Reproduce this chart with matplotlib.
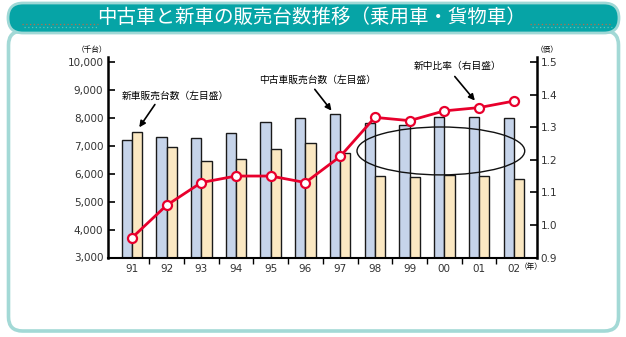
import matplotlib.pyplot as plt
from matplotlib.patches import FancyBboxPatch, Ellipse

plt.rcParams['font.family'] = ['Noto Sans CJK JP', 'DejaVu Sans']

# data
years = ['91', '92', '93', '94', '95', '96', '97', '98', '99', '00', '01', '02']
used_cars = [7200, 7330, 7285, 7450, 7870, 8000, 8130, 7830, 7760, 8040, 8020, 8010]   # 中古車販売台数 (千台)
new_cars = [7500, 6940, 6460, 6520, 6890, 7095, 6730, 5920, 5870, 5950, 5920, 5820]    # 新車販売台数 (千台)
ratio = [0.96, 1.06, 1.13, 1.15, 1.15, 1.13, 1.21, 1.33, 1.32, 1.35, 1.36, 1.38]       # 新中比率 (倍)

W, H = 626, 337
fig = plt.figure(figsize=(W / 100, H / 100), dpi=100)

# background frame + header (pixel units -> inches)
def px(x, y):
    return x / 100, (H - y) / 100

body = FancyBboxPatch(px(8.5, 331), 6.10, 3.0, boxstyle='round,pad=0,rounding_size=0.14',
                      transform=fig.dpi_scale_trans, facecolor='white',
                      edgecolor='#a3d9d6', linewidth=2.6, zorder=0)
fig.add_artist(body)
header = FancyBboxPatch(px(8, 33), 6.11, 0.30, boxstyle='round,pad=0,rounding_size=0.15',
                        transform=fig.dpi_scale_trans, facecolor='#06a4a6',
                        edgecolor='#9fd8d6', linewidth=2, zorder=1)
fig.add_artist(header)
for x0, x1 in [(22, 98), (530, 612)]:
    fig.add_artist(plt.Line2D([x0 / W, x1 / W], [1 - 24 / H, 1 - 24 / H], color='#d8643a',
                              linestyle=(0, (1, 2)), linewidth=0.9, alpha=0.85, zorder=2))
    fig.add_artist(plt.Line2D([x0 / W + 0.003, x1 / W], [1 - 27 / H, 1 - 27 / H], color='#5cc1b9',
                              linestyle=(0, (1, 2)), linewidth=0.9, zorder=2))
fig.text(312 / W, 1 - 17 / H, '中古車と新車の販売台数推移（乗用車・貨物車）', color='white',
         fontsize=14, ha='center', va='center', zorder=3)

# axes
ax = fig.add_axes([107.5 / W, 1 - 257.5 / H, (536.7 - 107.5) / W, (257.5 - 57) / H])
ax.set_zorder(2)
x = list(range(len(years)))
w = 0.295
ax.bar([i - w / 2 for i in x], used_cars, width=w, color='#c6d4ea', edgecolor='#1a1a1a',
       linewidth=1.0, zorder=2)
ax.bar([i + w / 2 for i in x], new_cars, width=w, color='#fbe8c2', edgecolor='#1a1a1a',
       linewidth=1.0, zorder=2)

ax.set_xlim(-0.70, 11.66)
ax.set_ylim(3000, 10180)
ax.set_yticks(range(3000, 10001, 1000))
ax.set_yticklabels([f'{v:,}' for v in range(3000, 10001, 1000)])
ax.set_xticks(x)
ax.set_xticklabels(years)
ax.set_xticks([i + 0.5 for i in range(11)], minor=True)
ax.tick_params(axis='x', which='major', length=0, pad=5, labelsize=7.5, labelcolor='#333333')
ax.tick_params(axis='x', which='minor', length=4, width=1, direction='out')
ax.tick_params(axis='y', direction='in', length=5, width=1.2, labelsize=7.5, labelcolor='#333333', pad=3)
for lab in ax.get_xticklabels() + ax.get_yticklabels():
    lab.set_family('DejaVu Sans')
for s in ['top', 'right']:
    ax.spines[s].set_visible(False)
ax.spines['left'].set_linewidth(1.8)
ax.spines['bottom'].set_linewidth(1.5)

ax2 = ax.twinx()
ax2.set_ylim(0.9, 1.5153)
ax2.set_yticks([0.9, 1.0, 1.1, 1.2, 1.3, 1.4, 1.5])
ax2.set_yticklabels(['0.9', '1.0', '1.1', '1.2', '1.3', '1.4', '1.5'])
ax2.tick_params(axis='y', direction='in', length=5, width=1.2, labelsize=7.5, labelcolor='#333333', pad=3)
for lab in ax2.get_yticklabels():
    lab.set_family('DejaVu Sans')
for s in ['top', 'left', 'bottom']:
    ax2.spines[s].set_visible(False)
ax2.spines['right'].set_linewidth(1.8)
ax2.plot(x, ratio, color='#e8002c', linewidth=2, marker='o', markersize=6.5,
         markerfacecolor='white', markeredgecolor='#e8002c', markeredgewidth=1.6, zorder=3)
ax2.add_patch(Ellipse((8.9, 1.227), 4.83, 0.147, fill=False, edgecolor='#111111', linewidth=1.0, zorder=4))

# annotations
ann_kw = dict(arrowprops=dict(arrowstyle='-|>', color='black', lw=1.2, mutation_scale=9))
ax.annotate('', xy=(0.17, 7580), xytext=(0.71, 8560), **ann_kw)
ax.annotate('', xy=(5.8, 8180), xytext=(5.22, 9100), **ann_kw)
ax2.annotate('', xy=(9.93, 1.375), xytext=(9.25, 1.462), **ann_kw)
ax.text(1.24, 8800, '新車販売台数（左目盛）', fontsize=7, ha='center', va='center')
ax.text(5.36, 9370, '中古車販売台数（左目盛）', fontsize=7, ha='center', va='center')
ax2.text(9.37, 1.488, '新中比率（右目盛）', fontsize=7, ha='center', va='center', zorder=5)

fig.text(92 / W, 1 - 50 / H, '（千台）', fontsize=5.5, ha='center', va='center')
fig.text(547 / W, 1 - 50 / H, '（倍）', fontsize=5.5, ha='center', va='center')
fig.text(531 / W, 1 - 267 / H, '（年）', fontsize=5.5, ha='center', va='center')

fig.savefig('out.png', dpi=100)
